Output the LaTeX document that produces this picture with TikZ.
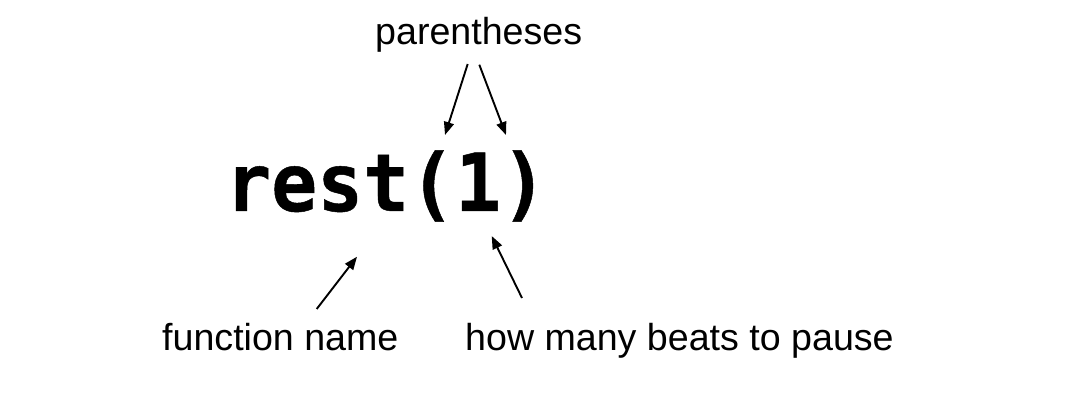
\documentclass[tikz,border=0pt]{standalone}
\usepackage{fontspec}
\setmainfont{Liberation Sans}
\newfontfamily\codefont{DejaVu Sans Mono Bold}[FakeStretch=0.955,FakeBold=0.6]
\usetikzlibrary{arrows.meta}
\begin{document}
\begin{tikzpicture}[x=1pt,y=-1pt,
  label/.style={inner sep=0pt,anchor=base west,font=\fontsize{37.6pt}{40pt}\selectfont},
  code/.style={inner sep=0pt,anchor=base west,font=\codefont\fontsize{80pt}{84pt}\selectfont},
  pointer/.style={line width=1.9pt,-{Triangle[length=13pt,width=10pt]}}]
\useasboundingbox[fill=white] (0,0) rectangle (1070,406);
\node[code] (code) at (225,211) {rest(1)};
\node[label] (paren) at (375,45) {parentheses};
\node[label] (fname) at (162,350) {function name};
\node[label] (beats) at (465,350) {how many beats to pause};
\coordinate (pa) at (467.7,64);
\coordinate (pb) at (479.3,64.7);
\coordinate (lpar) at (445,135);
\coordinate (rpar) at (506,135);
\coordinate (fa) at (316.7,309);
\coordinate (fb) at (357,256.7);
\coordinate (ba) at (522,298);
\coordinate (bb) at (491.7,236);
\draw[pointer] (pa) -- (lpar);
\draw[pointer] (pb) -- (rpar);
\draw[pointer] (fa) -- (fb);
\draw[pointer] (ba) -- (bb);
\end{tikzpicture}
\end{document}
